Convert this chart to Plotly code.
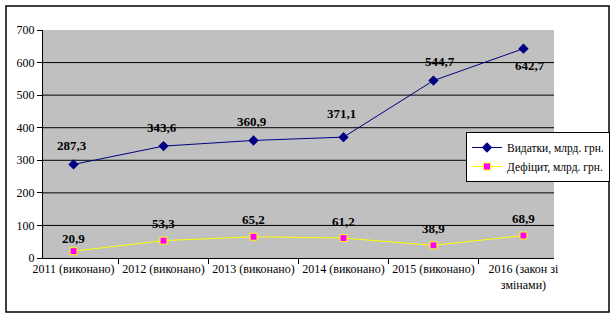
import plotly.graph_objects as go

categories = ["2011 (виконано)", "2012 (виконано)", "2013 (виконано)",
              "2014 (виконано)", "2015 (виконано)", "2016 (закон зі<br>змінами)"]
expenditures = [287.3, 343.6, 360.9, 371.1, 544.7, 642.7]
deficit = [20.9, 53.3, 65.2, 61.2, 38.9, 68.9]
y_ticks = [0, 100, 200, 300, 400, 500, 600, 700]

FONT = "Liberation Serif"

def fmt(v):
    return f"{v:.1f}".replace(".", ",")

fig = go.Figure()
fig.add_trace(go.Scatter(
    x=categories, y=expenditures, mode="lines+markers",
    name="Видатки, млрд. грн.",
    line=dict(color="#000080", width=1),
    marker=dict(symbol="diamond", size=8, color="#000080"),
))
fig.add_trace(go.Scatter(
    x=categories, y=deficit, mode="lines+markers",
    name="Дефіцит, млрд. грн.",
    line=dict(color="#FFFF00", width=1),
    marker=dict(symbol="square", size=7, color="#FF00FF",
                line=dict(color="#FFFF00", width=1)),
))

annotations = []
for i, (c, v) in enumerate(zip(categories, expenditures)):
    last = i == len(categories) - 1
    annotations.append(dict(
        x=c, y=v, text=f"<b>{fmt(v)}</b>", showarrow=False,
        yshift=-17 if last else (24 if i == 3 else 19),
        xshift=7 if i >= 4 else -2,
        font=dict(family=FONT, size=13, color="black")))
for i, (c, v) in enumerate(zip(categories, deficit)):
    annotations.append(dict(
        x=c, y=v, text=f"<b>{fmt(v)}</b>", showarrow=False,
        yshift=13 if i == 0 else 17,
        font=dict(family=FONT, size=13, color="black")))

# plot area geometry (pixels) used to place the outer frame
L, R, T, B = 43, 62, 30, 63
W, H = 616, 321
pw, ph = W - L - R, H - T - B

shapes = []
for g in y_ticks[1:-1]:
    shapes.append(dict(type="line", xref="paper", yref="y", x0=0, x1=1, y0=g, y1=g,
                       line=dict(color="black", width=1), layer="below"))
shapes.append(dict(type="rect", xref="paper", yref="paper",
                   x0=(6 - L) / pw, x1=(609 - L) / pw,
                   y0=(H - B - 312) / ph, y1=(H - B - 6) / ph,
                   line=dict(color="black", width=1.5), fillcolor="rgba(0,0,0,0)"))

fig.update_layout(
    width=W, height=H,
    margin=dict(l=L, r=R, t=T, b=B, pad=0, autoexpand=False),
    paper_bgcolor="white", plot_bgcolor="#C0C0C0",
    font=dict(family=FONT, size=12, color="black"),
    showlegend=True,
    legend=dict(x=(466 - L) / pw, y=(H - B - 132) / ph, xanchor="left", yanchor="top",
                bgcolor="white", bordercolor="black", borderwidth=1,
                font=dict(family=FONT, size=11.5, color="black"),
                tracegroupgap=0, itemwidth=30),
    annotations=annotations,
    shapes=shapes,
)
fig.update_xaxes(
    type="category", showgrid=False, showline=True, linecolor="black", linewidth=1,
    ticks="outside", tickson="boundaries", ticklen=5, tickcolor="black",
    tickangle=0, automargin=False,
    tickfont=dict(family=FONT, size=12), fixedrange=True,
)
fig.update_yaxes(
    range=[0, 700], tickvals=y_ticks, showgrid=False, zeroline=False,
    showline=True, linecolor="black", linewidth=1,
    ticks="outside", ticklen=5, tickcolor="black", automargin=False,
    tickfont=dict(family=FONT, size=12), fixedrange=True,
)

fig.write_html("out.html")
